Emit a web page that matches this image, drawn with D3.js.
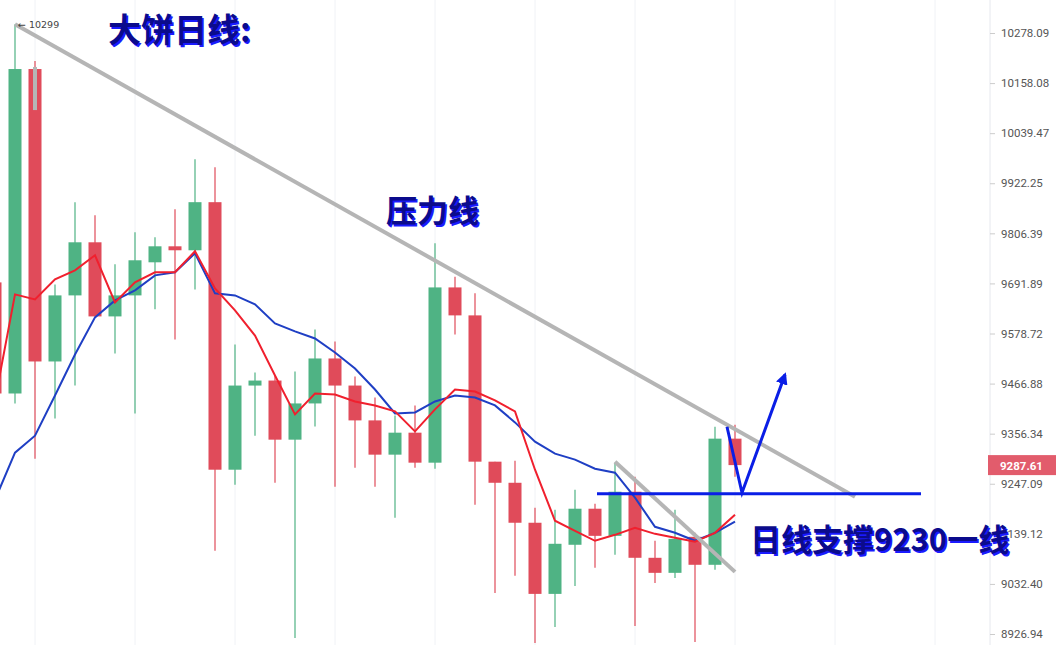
<!DOCTYPE html>
<html><head><meta charset="utf-8">
<script src="https://cdn.jsdelivr.net/npm/d3@7"></script>
<style>body{margin:0;background:#fff}svg{display:block}</style>
</head><body><svg id="c" width="1058" height="645"></svg>
<script>
// candles start at index -1 (partial at left edge)
const opens  = [9694.2,9444.9,10191.6,9516.1,9664.7,9785.8,9617.2,9664.7,9740.0,9776.6,9767.5,9878.3,9277.6,9462.5,9473.6,9343.2,9422.9,9522.8,9462.5,9385.5,9310.4,9358.5,9292.9,9682.8,9619.5,9295.1,9249.2,9162.9,9011.3,9115.7,9193.1,9134.8,9229.8,9087.9,9055.9,9132.7,9073.0,9345.4];
const highs  = [9710.2,10299,10210.8,9689.6,9878.3,9848.2,9735.4,9808.8,9797.2,9862.1,9978.5,9959.8,9554.1,9491.5,9484.1,9493.7,9587.8,9560.8,9482.6,9436.1,9396.5,9418.5,9783.5,9706.9,9669.3,9295.1,9297.3,9195.3,9191.0,9234.1,9203.9,9292.9,9262.4,9124.2,9191.0,9141.3,9371.6,9376.0];
const lows   = [9429.5,9422.9,9301.7,9389.9,9462.5,9617.2,9534.0,9400.9,9633.1,9565.3,9678.3,9102.8,9245.0,9352.0,9249.2,8918.6,9372.3,9240.6,9282.0,9240.6,9173.7,9282.0,9279.8,9576.5,9201.8,9013.4,9049.5,8908.2,8941.7,9028.2,9066.5,9094.3,8943.8,9034.5,9045.2,8910.3,9062.3,9262.4];
const closes = [9444.9,10191.6,9516.1,9664.7,9785.8,9617.2,9664.7,9744.6,9776.6,9767.5,9878.3,9277.6,9462.5,9473.6,9343.2,9422.9,9522.8,9462.5,9385.5,9310.4,9358.5,9292.9,9682.8,9619.5,9295.1,9249.2,9162.9,9011.3,9117.8,9193.1,9134.8,9229.8,9087.9,9055.9,9128.4,9073.0,9345.4,9287.61];
const maFast = [9429.5,9667.0,9655.7,9701.1,9721.7,9756.0,9648.9,9694.2,9717.2,9717.2,9765.2,9680.6,9630.8,9574.2,9484.8,9398.7,9444.9,9442.7,9427.3,9418.5,9405.3,9361.3,9409.7,9453.7,9449.3,9429.5,9405.3,9277.6,9167.2,9145.6,9124.2,9137.0,9152.1,9139.1,9130.6,9122.1,9141.3,9180.2];
const maSlow = [9212.6,9314.8,9352.0,9440.5,9531.7,9615.0,9653.4,9676.1,9710.2,9717.2,9760.6,9669.3,9664.7,9644.4,9601.5,9583.4,9567.5,9536.2,9500.4,9453.7,9400.9,9403.1,9427.3,9440.5,9436.1,9418.5,9381.1,9338.8,9312.6,9299.5,9279.8,9271.0,9216.9,9154.2,9141.3,9124.2,9141.3,9165.1];
const tickValues = [10278.09,10158.08,10039.47,9922.25,9806.39,9691.89,9578.72,9466.88,9356.34,9247.09,9139.12,9032.40,8926.94];
const lastPrice = 9287.61;
const gridIdx = [1,6,11,16,21,26,31,36,41,46];

const svg = d3.select("#c");
const W = 1058, H = 645, plotR = 990;
const x = d3.scaleLinear().domain([0,1]).range([15,35]);
const y = d3.scaleLog().domain([8926.94,10278.09]).range([634,33]);
const idx = closes.map((d,i)=>i-1);
const up = "#4fb384", dn = "#e04b5a";

svg.append("defs").append("clipPath").attr("id","pc").append("rect").attr("x",0).attr("y",0).attr("width",plotR).attr("height",H);
const g = svg.append("g").attr("clip-path","url(#pc)");

g.selectAll(".grid").data(gridIdx).join("line")
  .attr("x1",d=>x(d)).attr("x2",d=>x(d)).attr("y1",0).attr("y2",H)
  .attr("stroke","#f0f2f6").attr("stroke-width",1);

const cg = g.selectAll(".cd").data(idx).join("g");
cg.append("line").attr("x1",d=>x(d)).attr("x2",d=>x(d))
  .attr("y1",(d,i)=>y(highs[i])).attr("y2",(d,i)=>y(lows[i]))
  .attr("stroke",(d,i)=>closes[i]>=opens[i]?up:dn).attr("stroke-width",1.2);
cg.append("rect").attr("x",d=>x(d)-6.5).attr("width",13)
  .attr("y",(d,i)=>y(Math.max(opens[i],closes[i])))
  .attr("height",(d,i)=>Math.max(2,Math.abs(y(opens[i])-y(closes[i]))))
  .attr("fill",(d,i)=>closes[i]>=opens[i]?up:dn);

const line = d3.line().x((d,i)=>x(idx[i])).y(d=>y(d));
g.append("path").datum(maSlow).attr("d",line).attr("fill","none").attr("stroke","#1f3fc4").attr("stroke-width",2);
g.append("path").datum(maFast).attr("d",line).attr("fill","none").attr("stroke","#f0202e").attr("stroke-width",2);

const seg = (i1,p1,i2,p2,col,w)=>g.append("line").attr("x1",x(i1)).attr("y1",y(p1)).attr("x2",x(i2)).attr("y2",y(p2)).attr("stroke",col).attr("stroke-width",w);
seg(0,10299,42,9219.0,"#b5b5b5",4);
seg(30,9295.1,36,9058.0,"#b5b5b5",4);
seg(1,10196.4,1,10094.0,"#b5b5b5",4);
seg(29.1,9225.5,45.3,9225.5,"#0a1ee6",3);
svg.append("defs").append("marker").attr("id","ah").attr("viewBox","0 0 10 10").attr("refX",8).attr("refY",5)
  .attr("markerWidth",4).attr("markerHeight",4).attr("orient","auto")
  .append("path").attr("d","M0,0L10,5L0,10z").attr("fill","#0a1ee6");
g.append("path").datum([[35.6,9371.6],[36.35,9227.6],[38.5,9486.8]])
  .attr("d",d3.line().x(d=>x(d[0])).y(d=>y(d[1])))
  .attr("fill","none").attr("stroke","#0a1ee6").attr("stroke-width",3).attr("marker-end","url(#ah)");

g.append("text").attr("x",x(0)+3).attr("y",y(10299)+4).attr("font-family","DejaVu Sans, sans-serif").attr("font-size",9.5).attr("fill","#444").text("← 10299");

svg.append("line").attr("x1",plotR).attr("x2",plotR).attr("y1",0).attr("y2",H).attr("stroke","#e6e8ee");
const ax = svg.append("g").attr("transform",`translate(${plotR},0)`)
  .call(d3.axisRight(y).tickValues(tickValues).tickFormat(d3.format(".2f")).tickSize(5).tickPadding(6));
ax.select(".domain").remove();
ax.selectAll("line").attr("stroke","#ccc");
ax.selectAll("text").attr("font-family","Roboto, sans-serif").attr("font-size",11.5).attr("fill","#555");
svg.append("rect").attr("x",plotR-2).attr("y",y(lastPrice)-10).attr("width",68).attr("height",20).attr("fill","#e25c6c");
svg.append("text").attr("x",plotR+10).attr("y",y(lastPrice)+4.5).attr("font-family","Roboto, sans-serif").attr("font-size",11.5).attr("font-weight","bold").attr("fill","#fff").text(lastPrice.toFixed(2));

const big = (tx,px,py,fs)=>{
  svg.append("text").attr("x",px+1.5).attr("y",py+1.5).attr("font-family","Noto Sans CJK SC").attr("font-weight","bold").attr("font-size",fs).attr("fill","#1a1aff").text(tx);
  svg.append("text").attr("x",px).attr("y",py).attr("font-family","Noto Sans CJK SC").attr("font-weight","bold").attr("font-size",fs).attr("fill","#0b0b8c").text(tx);
};
big("大饼日线:",108,42,33);
big("压力线",386,222,31);
big("日线支撑9230一线",750,551,31);
</script></body></html>
